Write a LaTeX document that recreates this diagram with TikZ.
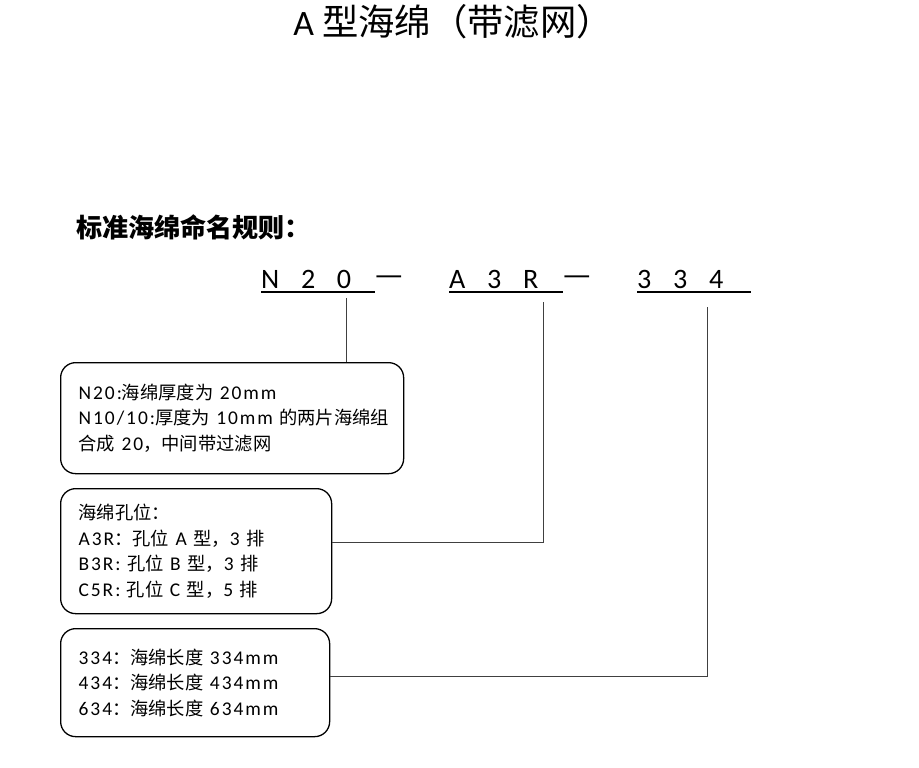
\documentclass[tikz,border=0pt]{standalone}
\usepackage{fontspec}
\setmainfont{Carlito}
\newfontfamily\boxfont{Carlito}[LetterSpace=10]
\newfontfamily\cjk{Noto Sans CJK SC}[Scale=0.94]
\usetikzlibrary{calc}
\newcommand{\zh}[1]{{\cjk #1}}
\tikzset{
  infobox/.style={draw, line width=1.1pt, rounded corners=4.5mm, anchor=north west,
    align=left, inner xsep=5.4mm, inner ysep=0pt, font=\boxfont\fontsize{16.6}{21.8}\selectfont},
  codepart/.style={anchor=south west, inner sep=0pt, text width=34mm, align=left,
    font=\fontsize{24}{28}\selectfont},
  dashpart/.style={inner sep=0pt, anchor=base, font=\cjk\fontsize{28}{30}\selectfont},
  codeline/.style={line width=1.4pt},
  leader/.style={line width=0.6pt, black!75},
}
\begin{document}
\begin{tikzpicture}[x=0.3mm, y=-0.3mm]
  \useasboundingbox (0,0) rectangle (919,768);
  % headings
  \node (title) at (453,22) {\fontsize{30.5}{34}\selectfont A \cjk\fontsize{33}{36}\selectfont 型海绵（带滤网）};
  \node [anchor=west] (rules) at (72,227) {\cjk\fontsize{23.7}{26}\selectfont\bfseries 标准海绵命名规则：};
  % code
  \node [codepart] (codeN) at (261,289) {N\hspace{6.5mm}2\hspace{6.5mm}0};
  \node [dashpart] (dashA) at (389,285) {—};
  \node [codepart] (codeR) at (449,289) {A\hspace{6.5mm}3\hspace{6.5mm}R};
  \node [dashpart] (dashB) at (577,285) {—};
  \node [codepart] (codeL) at (637,289) {3\hspace{6.5mm}3\hspace{6.5mm}4};
  \foreach \c in {codeN,codeR,codeL}
    \draw [codeline] ([yshift=-0.9mm]\c.south west) -- ([yshift=-0.9mm]\c.south east);
  \coordinate (tickN) at (346,298);
  \coordinate (tickR) at (543,302);
  \coordinate (tickL) at (707,307);
  % boxes
  \node [infobox, minimum width=102.9mm, minimum height=33.3mm, text width=92.1mm] (thick) at (60,362)
    {N20:\zh{海绵厚度为} 20mm\\
     \mbox{N10/10:\zh{厚度为} 10mm \zh{的两片海绵组}}\\
     \zh{合成} 20\zh{，中间带过滤网}};
  \node [infobox, minimum width=81.3mm, minimum height=37.5mm, text width=70.5mm] (holes) at (60,488)
    {\zh{海绵孔位：}\\
     A3R\zh{：孔位} A \zh{型，}3 \zh{排}\\
     B3R: \zh{孔位} B \zh{型，}3 \zh{排}\\
     C5R: \zh{孔位} C \zh{型，}5 \zh{排}};
  \node [infobox, minimum width=80.7mm, minimum height=32.4mm, text width=69.9mm] (length) at (60,628)
    {334\zh{：海绵长度} 334mm\\
     434\zh{：海绵长度} 434mm\\
     634\zh{：海绵长度} 634mm};
  % leaders
  \draw [leader] (tickN) -- (tickN |- thick.north);
  \draw [leader] (tickR) |- ($(holes.east)+(0,-9)$);
  \draw [leader] (tickL) |- ($(length.east)+(0,-6)$);
\end{tikzpicture}
\end{document}
